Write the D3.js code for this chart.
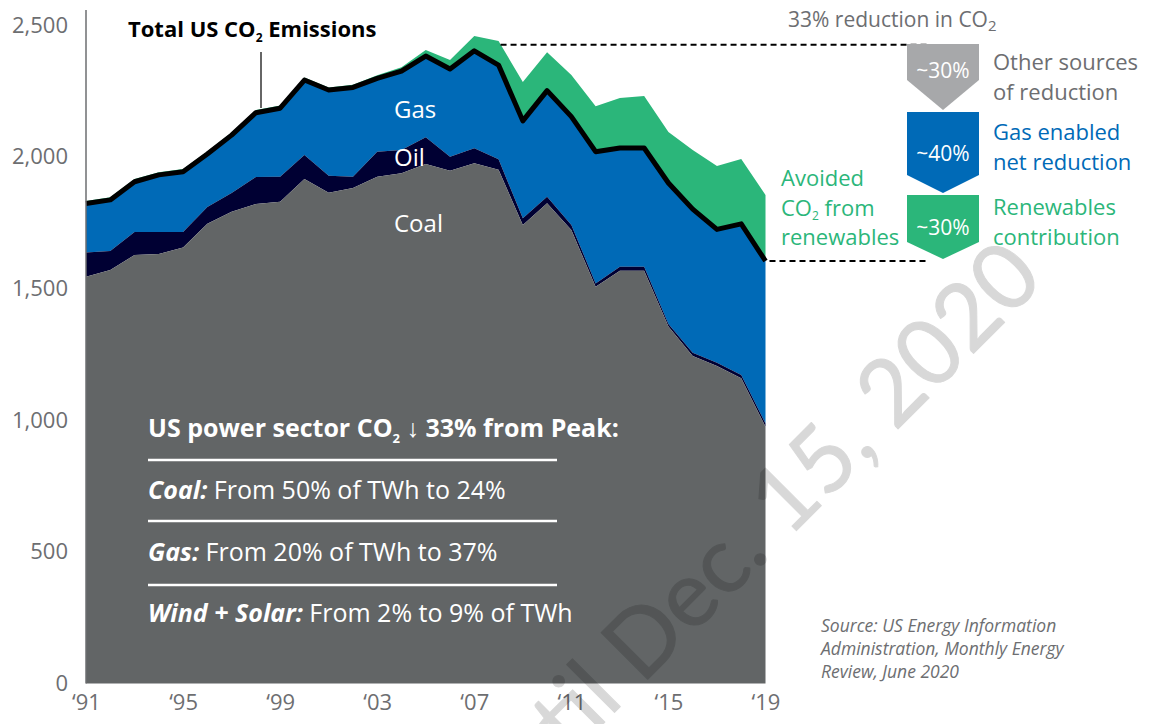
<!DOCTYPE html>
<html>
<head>
<meta charset="utf-8">
<script src="https://cdn.jsdelivr.net/npm/d3@7"></script>
<style>
  body { margin: 0; background: #fff; }
  svg text { font-family: "Open Sans", sans-serif; }
</style>
</head>
<body>
<script>
// data (million metric tons CO2, US power sector)
var years = [1991, 1992, 1993, 1994, 1995, 1996, 1997, 1998, 1999, 2000,
             2001, 2002, 2003, 2004, 2005, 2006, 2007, 2008, 2009, 2010,
             2011, 2012, 2013, 2014, 2015, 2016, 2017, 2018, 2019];
var coal = [1544, 1570, 1627, 1631, 1655, 1745, 1791, 1820, 1829, 1915,
            1863, 1881, 1924, 1937, 1972, 1947, 1975, 1950, 1741, 1823,
            1722, 1506, 1567, 1567, 1355, 1243, 1205, 1159, 975];
var oil = [92, 72, 87, 83, 59, 64, 71, 103, 95, 91,
           65, 43, 95, 88, 102, 53, 57, 40, 25, 25,
           19, 13, 15, 15, 10, 13, 13, 12, 12];
var gas = [186, 194, 191, 217, 229, 201, 220, 244, 260, 285,
           325, 339, 278, 300, 308, 333, 370, 358, 370, 403,
           411, 500, 451, 451, 535, 545, 506, 574, 617];
// avoided CO2 from renewables, stacked on top of the total
var renew = [10, 10, 10, 10, 10, 10, 10, 10, 10, 10,
             10, 10, 12, 15, 23, 34, 56, 91, 148, 146,
             158, 173, 190, 197, 194, 224, 241, 246, 251];
var yTicks = [0, 500, 1000, 1500, 2000, 2500];
var xTicks = [1991, 1995, 1999, 2003, 2007, 2011, 2015, 2019];
var peakRef = 2425;

var svgWidth = 1150, svgHeight = 724;
var svg = d3.select("body").append("svg")
  .attr("width", svgWidth)
  .attr("height", svgHeight);

var x = d3.scaleLinear().domain([1991, 2019]).range([86, 765.5]);
var y = d3.scaleLinear().domain([0, 2500]).range([683.5, 25]);

var rows = years.map(function(yr, i) {
  return { year: yr, coal: coal[i], oil: oil[i], gas: gas[i], renew: renew[i] };
});
var keys = ["coal", "oil", "gas", "renew"];
var colors = { coal: "#626566", oil: "#000033", gas: "#006ab7", renew: "#2bb67a" };
var stack = d3.stack().keys(keys)(rows);

var area = d3.area()
  .x(function(d) { return x(d.data.year); })
  .y0(function(d) { return y(d[0]); })
  .y1(function(d) { return y(d[1]); });

svg.append("g").selectAll("path")
  .data(stack.slice().reverse())
  .enter().append("path")
  .attr("d", area)
  .attr("fill", function(d) { return colors[d.key]; });

// total line
var line = d3.line()
  .x(function(d) { return x(d.year); })
  .y(function(d) { return y(d.coal + d.oil + d.gas); });
svg.append("path")
  .datum(rows)
  .attr("d", line)
  .attr("fill", "none")
  .attr("stroke", "#000")
  .attr("stroke-width", 5)
  .attr("stroke-linejoin", "round");

// y axis
var yAxis = svg.append("g")
  .attr("transform", "translate(68,0)")
  .call(d3.axisLeft(y).tickValues(yTicks).tickSize(0).tickPadding(0).tickFormat(d3.format(",")));
yAxis.select(".domain").remove();
yAxis.selectAll("text")
  .attr("fill", "#6d6e71")
  .style("font-size", "22px")
  .style("font-family", "'Open Sans', sans-serif");
svg.append("line")
  .attr("x1", 86).attr("x2", 86)
  .attr("y1", 10).attr("y2", y(0))
  .attr("stroke", "#6d6e71").attr("stroke-width", 1.5);

// x axis
var xAxis = svg.append("g")
  .attr("transform", "translate(0," + (y(0) + 8) + ")")
  .call(d3.axisBottom(x).tickValues(xTicks).tickSize(0).tickPadding(3)
    .tickFormat(function(d) { return "\u2018" + String(d).slice(2); }));
xAxis.select(".domain").remove();
xAxis.selectAll("text")
  .attr("fill", "#6d6e71")
  .style("font-size", "22px")
  .style("font-family", "'Open Sans', sans-serif");

// dashed reference lines
var totalLast = coal[28] + oil[28] + gas[28];
svg.append("line")
  .attr("x1", x(2008) + 2).attr("x2", 928)
  .attr("y1", y(peakRef)).attr("y2", y(peakRef))
  .attr("stroke", "#000").attr("stroke-width", 2).attr("stroke-dasharray", "6,4");
svg.append("line")
  .attr("x1", x(2019) + 4).attr("x2", 928)
  .attr("y1", y(totalLast)).attr("y2", y(totalLast))
  .attr("stroke", "#000").attr("stroke-width", 2).attr("stroke-dasharray", "6,4");

// area labels
var areaLabels = [["Gas", 118], ["Oil", 166], ["Coal", 232]];
areaLabels.forEach(function(l) {
  svg.append("text").attr("x", 394).attr("y", l[1])
    .attr("fill", "#fff").style("font-size", "24px")
    .text(l[0]);
});

// title and leader
var title = svg.append("text").attr("x", 128).attr("y", 37)
  .style("font-size", "22px").style("font-weight", "bold").attr("fill", "#000");
title.append("tspan").text("Total US CO");
title.append("tspan").attr("dy", 5).style("font-size", "12px").text("2");
title.append("tspan").attr("dy", -5).text(" Emissions");
svg.append("line")
  .attr("x1", 261).attr("x2", 261).attr("y1", 52).attr("y2", 108)
  .attr("stroke", "#333").attr("stroke-width", 1.5);

// text box inside coal area
var box = svg.append("g");
var head = box.append("text").attr("x", 148).attr("y", 437)
  .attr("fill", "#fff").style("font-size", "25px").style("font-weight", "bold");
head.append("tspan").text("US power sector CO");
head.append("tspan").attr("dy", 6).style("font-size", "13px").text("2");
head.append("tspan").attr("dy", -6).style("font-weight", "normal").text(" \u2193 ");
head.append("tspan").text("33% from Peak:");

var boxLines = [460, 521, 585];
boxLines.forEach(function(ly) {
  box.append("line").attr("x1", 148).attr("x2", 557).attr("y1", ly).attr("y2", ly)
    .attr("stroke", "#fff").attr("stroke-width", 2.5);
});
var facts = [["Coal:", " From 50% of TWh to 24%", 499],
             ["Gas:", " From 20% of TWh to 37%", 561],
             ["Wind + Solar:", " From 2% to 9% of TWh", 622]];
facts.forEach(function(f) {
  var t = box.append("text").attr("x", 148).attr("y", f[2])
    .attr("fill", "#fff").style("font-size", "25px");
  t.append("tspan").style("font-weight", "bold").style("font-style", "italic").text(f[0]);
  t.append("tspan").text(f[1]);
});

// right-hand annotation
var r = svg.append("text").attr("x", 788).attr("y", 27)
  .attr("fill", "#6d6e71").style("font-size", "21px");
r.append("tspan").text("33% reduction in CO");
r.append("tspan").attr("dy", 4).style("font-size", "15px").text("2");

var chevrons = [
  { top: 44, side: 80, tip: 110, fill: "#a7a8aa", pct: "~30%", ty: 78,
    lines: ["Other sources", "of reduction"], color: "#6d6e71", ly: 70 },
  { top: 112, side: 175, tip: 193, fill: "#006ab7", pct: "~40%", ty: 161,
    lines: ["Gas enabled", "net reduction"], color: "#006ab7", ly: 140 },
  { top: 195, side: 242, tip: 259, fill: "#2bb67a", pct: "~30%", ty: 235,
    lines: ["Renewables", "contribution"], color: "#2bb67a", ly: 215 }
];
chevrons.forEach(function(c) {
  var pts = [[907, c.top], [979, c.top], [979, c.side], [943, c.tip], [907, c.side]];
  svg.append("polygon").attr("points", pts.map(function(p) { return p.join(","); }).join(" "))
    .attr("fill", c.fill);
  svg.append("text").attr("x", 943).attr("y", c.ty).attr("text-anchor", "middle")
    .attr("fill", "#fff").style("font-size", "21px").text(c.pct);
  c.lines.forEach(function(s, i) {
    svg.append("text").attr("x", 993).attr("y", c.ly + i * 30)
      .attr("fill", c.color).style("font-size", "22px").text(s);
  });
});

var av = svg.append("g").attr("fill", "#2bb67a").style("font-size", "22px");
av.append("text").attr("x", 781).attr("y", 186).text("Avoided");
var av2 = av.append("text").attr("x", 781).attr("y", 216);
av2.append("tspan").text("CO");
av2.append("tspan").attr("dy", 4).style("font-size", "12px").text("2");
av2.append("tspan").attr("dy", -4).text(" from");
av.append("text").attr("x", 781).attr("y", 245).text("renewables");

// source
var src = ["Source: US Energy Information", "Administration, Monthly Energy", "Review, June 2020"];
src.forEach(function(s, i) {
  svg.append("text").attr("x", 821).attr("y", 632 + i * 23)
    .attr("fill", "#6d6e71").style("font-size", "17.5px").style("font-style", "italic")
    .text(s);
});

// watermark (group opacity so fill + stroke don't double up)
svg.append("text")
  .attr("transform", "translate(1046,281) rotate(-45)")
  .attr("text-anchor", "end")
  .attr("fill", "#000").attr("stroke", "#000").attr("stroke-width", 1)
  .attr("stroke-linejoin", "round")
  .attr("opacity", 0.15)
  .style("font-size", "92px")
  .style("font-family", "Lato, sans-serif")
  .text("Embargoed until Dec. 15, 2020");
</script>
</body>
</html>
